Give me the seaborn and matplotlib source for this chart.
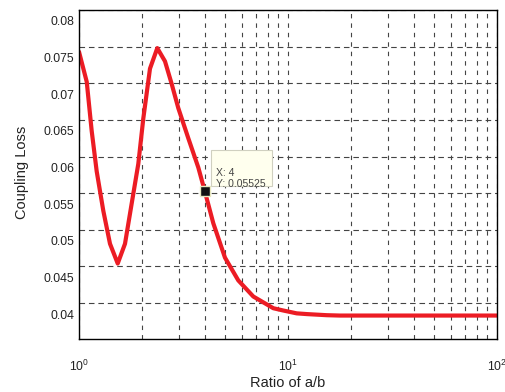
import numpy as np
import pandas as pd
import matplotlib
matplotlib.use("Agg")
import matplotlib.pyplot as plt
import matplotlib.transforms as mtransforms
from matplotlib.patches import Rectangle
from matplotlib.ticker import LogLocator, MultipleLocator
import seaborn as sns

# dane
ratio = [1.0, 1.089, 1.150, 1.215, 1.307, 1.407, 1.532, 1.660, 1.787, 1.922,
         2.031, 2.186, 2.369, 2.579, 2.777, 2.987, 3.334, 3.723, 4.0, 4.391,
         4.995, 5.782, 6.823, 8.506, 9.45, 11.0, 12.3, 15.3, 17.7, 30.0, 60.0, 100.0]
loss = [0.0743, 0.0702, 0.0635, 0.0580, 0.0526, 0.0481, 0.0454, 0.0481, 0.0536, 0.0590,
        0.0652, 0.0720, 0.0748, 0.0730, 0.0699, 0.0666, 0.0625, 0.0585, 0.05525, 0.0509,
        0.0462, 0.0431, 0.0409, 0.0393, 0.0390, 0.0386, 0.0385, 0.03835, 0.0383, 0.0383, 0.0383, 0.0383]
tip_x = 4
tip_y = 0.05525

df = pd.DataFrame({"ratio": ratio, "loss": loss})

sns.set_style("white")
plt.rcParams['font.family'] = ['Liberation Sans', 'DejaVu Sans']

fig = plt.figure(figsize=(5.05, 3.92), dpi=100)
ax = fig.add_axes([79/505, 53/392, 418/505, 329/392])

sns.lineplot(data=df, x="ratio", y="loss", ax=ax, color="#EC1C24",
             linewidth=3, sort=False, estimator=None)

ax.set_xscale("log")
ax.set_xlim(1, 100)
ax.set_ylim(0.0351, 0.0800)
ax.yaxis.set_major_locator(MultipleLocator(0.005))
ax.xaxis.set_major_locator(LogLocator(base=10))
ax.xaxis.set_minor_locator(LogLocator(base=10, subs=np.arange(2, 10)))

# siatka - przerywane linie
ax.grid(which="major", axis="y", color="#444444", linestyle=(0, (5, 3.5)), linewidth=0.8)
ax.grid(which="both", axis="x", color="#444444", linestyle=(0, (4, 4.5)), linewidth=0.8)
ax.set_axisbelow(True)

for s in ax.spines.values():
    s.set_color("black")
    s.set_linewidth(1.0)

ax.tick_params(axis="both", which="both", direction="in", length=0,
               labelsize=8.8, colors="#222222")
ax.tick_params(axis="x", pad=14)

# etykiety osi y przesunięte w dół jak w oryginale
yt = [v for v in ax.get_yticks() if 0.0351 <= v <= 0.0801]
ax.set_yticks(yt)
ax.set_yticklabels([f"{v:g}" for v in yt])
offset = mtransforms.ScaledTranslation(0, -11/100, fig.dpi_scale_trans)
for lab in ax.get_yticklabels():
    lab.set_transform(lab.get_transform() + offset)

ax.set_xlabel("Ratio of a/b", fontsize=10.5, color="#222222")
ax.set_ylabel("Coupling Loss", fontsize=10.5, color="#222222")
ax.xaxis.set_label_coords(0.50, -0.112)
ax.yaxis.set_label_coords(-0.12, 0.505)

# datatip
px, py = ax.transData.transform((tip_x, tip_y))
ax.add_patch(Rectangle((px + 6, py + 5), 61, 36, transform=None,
                       facecolor="#FFFFEE", edgecolor="#D0D0C0",
                       linewidth=0.8, zorder=5, clip_on=False))
ax.plot([tip_x], [tip_y], marker="s", markersize=6.5, color="#111111",
        markeredgecolor="#E8E8C0", markeredgewidth=1, zorder=6)
ax.annotate("X: 4\nY: 0.05525", xy=(tip_x, tip_y), xytext=(11, 13),
            textcoords="offset pixels", ha="left", va="center", fontsize=7.5,
            color="#444444", linespacing=1.2, zorder=7)

fig.savefig("out.png", dpi=100)
